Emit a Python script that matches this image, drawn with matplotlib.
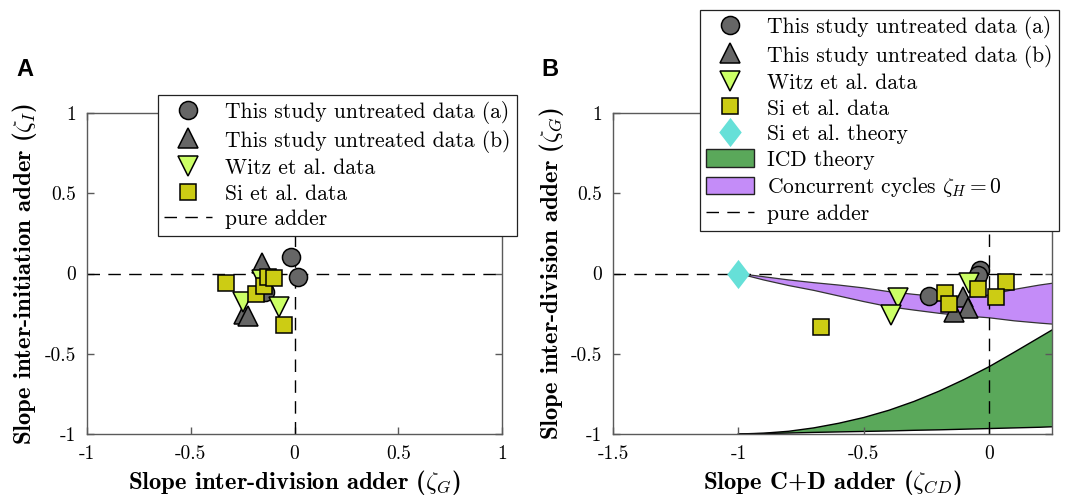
import numpy as np
import matplotlib
matplotlib.use("Agg")
import matplotlib.pyplot as plt
from matplotlib.patches import Patch
from matplotlib.lines import Line2D
from matplotlib.path import Path

plt.rcParams['mathtext.fontset'] = 'cm'
plt.rcParams['axes.unicode_minus'] = False

# ---- panel A data (x = zeta_G, y = zeta_I) ----
a_circ_x = [-0.018, 0.018, -0.142]
a_circ_y = [0.105, -0.02, -0.113]
a_tri_x = [-0.158, -0.245, -0.222]
a_tri_y = [0.063, -0.255, -0.265]
a_witz_x = [-0.247, -0.075, -0.158]
a_witz_y = [-0.176, -0.21, -0.04]
a_si_x = [-0.33, -0.186, -0.148, -0.126, -0.099, -0.05]
a_si_y = [-0.061, -0.128, -0.075, -0.02, -0.03, -0.32]

# ---- panel B data (x = zeta_CD, y = zeta_G) ----
b_circ_x = [-0.039, -0.045, -0.239]
b_circ_y = [0.022, -0.01, -0.138]
b_tri_x = [-0.105, -0.085, -0.139]
b_tri_y = [-0.144, -0.217, -0.238]
b_witz_x = [-0.079, -0.365, -0.392]
b_witz_y = [-0.06, -0.155, -0.259]
b_si_x = [-0.672, 0.068, 0.028, -0.045, -0.176, -0.159]
b_si_y = [-0.335, -0.055, -0.148, -0.099, -0.124, -0.19]
si_theory_x = [-1.0]
si_theory_y = [0.0]

# concurrent cycles band (zeta_H = 0)
cc_x = [-1.0, -0.9, -0.8, -0.7, -0.6, -0.5, -0.4, -0.3, -0.2, -0.1, 0.0, 0.1, 0.2, 0.25]
cc_upper = [0.0, -0.02, -0.04, -0.057, -0.072, -0.09, -0.113, -0.13, -0.145, -0.15, -0.134, -0.099, -0.072, -0.061]
cc_lower = [0.0, -0.04, -0.075, -0.105, -0.14, -0.175, -0.207, -0.228, -0.248, -0.264, -0.276, -0.295, -0.309, -0.315]

# ICD theory band
icd_x = [-1.0, -0.9, -0.8, -0.7, -0.6, -0.5, -0.4, -0.3, -0.2, -0.1, 0.0, 0.1, 0.2, 0.25]
icd_upper = [-1.0, -0.995, -0.983, -0.962, -0.933, -0.897, -0.852, -0.797, -0.733, -0.66, -0.58, -0.49, -0.398, -0.352]
icd_lower = [-1.0, -0.997, -0.994, -0.99, -0.987, -0.984, -0.981, -0.977, -0.974, -0.97, -0.966, -0.962, -0.958, -0.955]

ticks = [-1, -0.5, 0, 0.5, 1]
tick_labels = ['-1', '-0.5', '0', '0.5', '1']
b_xticks = [-1.5, -1, -0.5, 0]
b_xtick_labels = ['-1.5', '-1', '-0.5', '0']

GRAY = '#666666'
WITZ = '#ccff66'
SI = '#cccc14'
CYAN = '#66e0d8'
GREEN = '#5aa85a'
PURPLE = '#c48cf8'
AXC = '#5a5a5a'
FS = 15.5
LFS = 17.8
DASH = (0, (9, 6))

# slightly taller than wide diamond like the matlab one
diamond = Path([(0, 1), (0.77, 0), (0, -1), (-0.77, 0), (0, 1)],
               [Path.MOVETO, Path.LINETO, Path.LINETO, Path.LINETO, Path.CLOSEPOLY])

'''
Matlab-ish box axes with ticks on all four sides
'''
def style_axes(ax):
    for s in ax.spines.values():
        s.set_color(AXC)
        s.set_linewidth(1.0)
    ax.tick_params(direction='in', length=5, width=1.0, color=AXC,
                   top=True, right=True, labelsize=14, pad=8)
    for lab in ax.get_xticklabels() + ax.get_yticklabels():
        lab.set_fontfamily('cmr10')

def markers(ax, cx, cy, tx, ty, wx, wy, sx, sy):
    ax.plot(cx, cy, 'o', ms=13, mfc=GRAY, mec='k', mew=1.1, ls='none', zorder=4)
    ax.plot(tx, ty, '^', ms=14.5, mfc=GRAY, mec='k', mew=1.1, ls='none', zorder=4)
    ax.plot(wx, wy, 'v', ms=14.5, mfc=WITZ, mec='k', mew=1.1, ls='none', zorder=4)
    ax.plot(sx, sy, 's', ms=11, mfc=SI, mec='k', mew=1.1, ls='none', zorder=5)

def legend_handles(theory):
    h = [Line2D([], [], marker='o', ms=13, mfc=GRAY, mec='k', mew=1.1, ls='none'),
         Line2D([], [], marker='^', ms=14.5, mfc=GRAY, mec='k', mew=1.1, ls='none'),
         Line2D([], [], marker='v', ms=14.5, mfc=WITZ, mec='k', mew=1.1, ls='none'),
         Line2D([], [], marker='s', ms=11, mfc=SI, mec='k', mew=1.1, ls='none')]
    lab = ['This study untreated data (a)', 'This study untreated data (b)',
           'Witz et al. data', 'Si et al. data']
    if theory:
        h += [Line2D([], [], marker=diamond, ms=21, mfc=CYAN, mec='none', ls='none'),
              Patch(facecolor=GREEN, edgecolor='#222222', lw=1.0),
              Patch(facecolor=PURPLE, edgecolor='#222222', lw=1.0)]
        lab += ['Si et al. theory', 'ICD theory', r'Concurrent cycles $\zeta_H=0$']
    h.append(Line2D([], [], color='k', ls=DASH, lw=1.0))
    lab.append('pure adder')
    return h, lab

def add_legend(fig, theory, x0, y0):
    h, lab = legend_handles(theory)
    leg = fig.legend(h, lab, loc='upper left', bbox_to_anchor=(x0 / 1068, 1 - y0 / 498),
                     bbox_transform=fig.transFigure, prop={'family': 'cmr10', 'size': FS},
                     frameon=True, fancybox=False, framealpha=1, edgecolor='#222222',
                     borderaxespad=0, labelspacing=0.24, handlelength=2.2,
                     handleheight=0.9, handletextpad=0.6, borderpad=0.3)
    leg.get_frame().set_linewidth(0.9)

def set_labels(ax, xlab, ylab, xl_x, yl_x):
    ax.set_xlabel(xlab, fontfamily='cmb10', fontsize=LFS, va='center')
    ax.set_ylabel(ylab, fontfamily='cmb10', fontsize=LFS, va='center')
    ax.xaxis.set_label_coords(0.5, (434 - 482) / 321)
    ax.yaxis.set_label_coords(yl_x, 0.5)

def main():
    fig = plt.figure(figsize=(10.68, 4.98), dpi=100)
    axA = fig.add_axes([87 / 1068, 64 / 498, 415 / 1068, 321 / 498])
    axB = fig.add_axes([613 / 1068, 64 / 498, 439 / 1068, 321 / 498])

    # panel A
    axA.axhline(0, color='k', ls=DASH, lw=1.0, zorder=2)
    axA.axvline(0, color='k', ls=DASH, lw=1.0, zorder=2)
    markers(axA, a_circ_x, a_circ_y, a_tri_x, a_tri_y, a_witz_x, a_witz_y, a_si_x, a_si_y)
    axA.set_xlim(-1, 1)
    axA.set_ylim(-1, 1)
    axA.set_xticks(ticks)
    axA.set_xticklabels(tick_labels)
    axA.set_yticks(ticks)
    axA.set_yticklabels(tick_labels)
    style_axes(axA)
    set_labels(axA, r'Slope inter-division adder ($\zeta_G$)',
               r'Slope inter-initiation adder ($\zeta_I$)', 0.5, (25 - 87) / 415)
    add_legend(fig, False, 158, 95)

    # panel B
    axB.fill_between(icd_x, icd_lower, icd_upper, facecolor=GREEN, edgecolor='none', zorder=1)
    axB.plot(icd_x, icd_upper, color='k', lw=1.0, zorder=1.5)
    axB.plot(icd_x, icd_lower, color='k', lw=1.0, zorder=1.5)
    axB.fill_between(cc_x, cc_lower, cc_upper, facecolor=PURPLE, edgecolor='none', zorder=1)
    axB.plot(cc_x, cc_upper, color='#333333', lw=0.9, zorder=1.5)
    axB.plot(cc_x, cc_lower, color='#333333', lw=0.9, zorder=1.5)
    axB.axhline(0, color='k', ls=DASH, lw=1.0, zorder=2)
    axB.axvline(0, color='k', ls=DASH, lw=1.0, zorder=2)
    markers(axB, b_circ_x, b_circ_y, b_tri_x, b_tri_y, b_witz_x, b_witz_y, b_si_x, b_si_y)
    axB.plot(si_theory_x, si_theory_y, marker=diamond, ms=21, mfc=CYAN, mec='none',
             ls='none', zorder=6)
    axB.set_xlim(-1.5, 0.25)
    axB.set_ylim(-1, 1)
    axB.set_xticks(b_xticks)
    axB.set_xticklabels(b_xtick_labels)
    axB.set_yticks(ticks)
    axB.set_yticklabels(tick_labels)
    style_axes(axB)
    set_labels(axB, r'Slope C+D adder ($\zeta_{CD}$)',
               r'Slope inter-division adder ($\zeta_G$)', 0.5, (551 - 613) / 439)
    add_legend(fig, True, 700, 10)

    # panel letters
    fig.text(25 / 1068, 1 - 70 / 498, 'A', fontfamily='Liberation Sans', fontweight='bold',
             fontsize=17, ha='center', va='center')
    fig.text(550 / 1068, 1 - 70 / 498, 'B', fontfamily='Liberation Sans', fontweight='bold',
             fontsize=17, ha='center', va='center')

    fig.savefig('out.png', dpi=100)

main()
